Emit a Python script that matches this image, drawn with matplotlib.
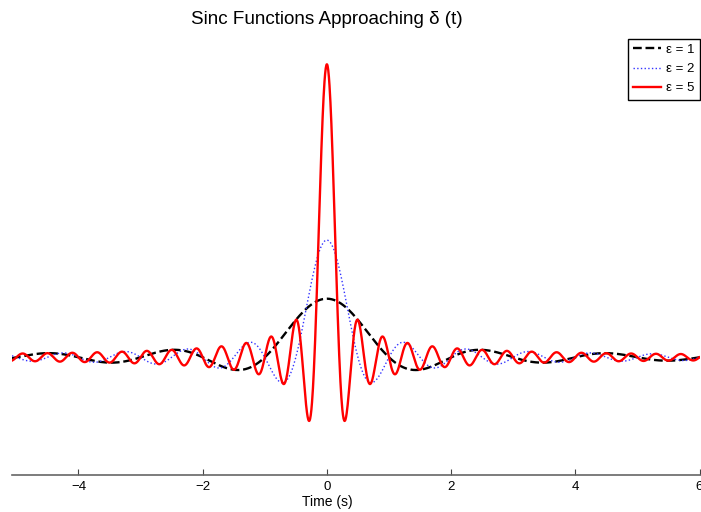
import numpy as np
import matplotlib
matplotlib.use("Agg")
import matplotlib.pyplot as plt

# values
epsilons = [1, 2, 5]
labels = ["ε = 1", "ε = 2", "ε = 5"]
colors = ["black", "#3333ff", "red"]
styles = ["--", ":", "-"]
widths = [1.7, 1.0, 1.7]
t_start, t_stop = -5.07, 6
xticks = [-4, -2, 0, 2, 4, 6]

t = np.linspace(t_start, t_stop, 2201)

plt.rcParams["font.family"] = ["Liberation Sans", "DejaVu Sans"]

fig = plt.figure(figsize=(7.01, 5.12), dpi=100)
ax = fig.add_axes([12 / 701, 37.5 / 512, 687.5 / 701, 439.5 / 512])

for eps, lab, c, ls, lw in zip(epsilons, labels, colors, styles, widths):
    # sinc pulse of width 1/eps and height eps
    ax.plot(t, eps * np.sinc(eps * t), color=c, linestyle=ls, linewidth=lw, label=lab)

ax.set_xlim(t_start, t_stop)
ax.set_ylim(-2, 5.5)
ax.set_xticks(xticks)
ax.set_xticklabels(["\u2212" + str(-v) if v < 0 else str(v) for v in xticks])
ax.set_yticks([])
for side in ["left", "top", "right"]:
    ax.spines[side].set_visible(False)
ax.spines["bottom"].set_color("#666666")
ax.spines["bottom"].set_linewidth(1.2)
ax.tick_params(axis="x", direction="in", length=4, width=0.8, color="#444444",
               labelsize=9.5, pad=5)

# title and xlabel sit centred over t = 0 in the reference
xc = (0 - t_start) / (t_stop - t_start)
ax.set_xlabel("Time (s)", fontsize=10, labelpad=1, x=xc)
ax.set_title("Sinc Functions Approaching δ (t)", fontsize=13.6, pad=8, x=xc)

leg = ax.legend(loc="upper right", bbox_to_anchor=(1.0, 0.992), borderaxespad=0,
                fontsize=9.5, handlelength=2.1, handletextpad=0.35, labelspacing=0.53,
                borderpad=0.4, fancybox=False, framealpha=1)
leg.get_frame().set_edgecolor("black")
leg.get_frame().set_linewidth(1.0)

fig.savefig("out.png", dpi=100)
